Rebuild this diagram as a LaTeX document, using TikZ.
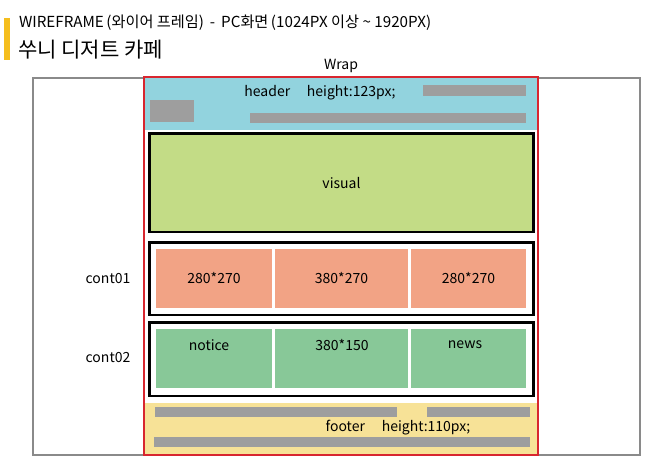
\documentclass[tikz,border=0pt]{standalone}
\usepackage{fontspec}
\setmainfont{Noto Sans CJK KR}
\definecolor{hdrblue}{HTML}{92D3DE}
\definecolor{visgreen}{HTML}{C3DC86}
\definecolor{salmon}{HTML}{F2A385}
\definecolor{cellgreen}{HTML}{88C898}
\definecolor{ftryellow}{HTML}{F7E297}
\definecolor{bargray}{HTML}{9E9E9E}
\definecolor{wrapred}{HTML}{D8262F}
\definecolor{titlebar}{HTML}{F5BE1E}
\definecolor{outergray}{HTML}{8A8A8A}
\newcommand{\wbox}[7]{%
  \pgfmathsetmacro{\cx}{(#2+#4)/2}\pgfmathsetmacro{\cy}{(#3+#5)/2}%
  \pgfmathsetmacro{\ww}{(#4-#2)*0.75}\pgfmathsetmacro{\hh}{(#5-#3)*0.75}%
  \node[#6, minimum width=\ww pt, minimum height=\hh pt] (#1) at (\cx,\cy) {#7};}
\begin{document}
\begin{tikzpicture}[x=0.75pt,y=-0.75pt,
  every node/.style={inner sep=0pt,outer sep=0pt,font=\fontsize{10.5pt}{12pt}\selectfont},
  bar/.style={rectangle,fill=bargray},
  cont/.style={rectangle,draw=black,line width=1.9pt,fill=white},
  cell/.style={rectangle},
  lbl/.style={text=black}]
\useasboundingbox (0,0) rectangle (654,461);
% title
\wbox{tbar}{4}{18}{10}{60}{rectangle,fill=titlebar}{}
\node[anchor=west,lbl,font=\fontsize{11.4pt}{13pt}\selectfont] (t1) at (19,23) {WIREFRAME\,(와이어 프레임)\, -\, PC화면\,(1024PX 이상 \textasciitilde{} 1920PX)};
\node[anchor=west,lbl,font=\fontsize{15.8pt}{18pt}\selectfont] (t2) at (18,50) {쑤니 디저트 카페};
\node[lbl] (wraplbl) at (341,66) {Wrap};
% outer box
\wbox{outer}{33}{78}{640}{455}{rectangle,draw=outergray,line width=0.8pt}{}
% header
\wbox{header}{145}{78}{537}{130}{rectangle,fill=hdrblue}{}
\wbox{hb1}{423}{85}{526}{96}{bar}{}
\wbox{hb2}{150}{100}{194}{122}{bar}{}
\wbox{hb3}{250}{113}{526}{123}{bar}{}
\node[lbl] (hdrtxt) at (320,93) {header\hspace{1.2em}height:123px;};
% visual
\wbox{visual}{149.5}{133.5}{533.5}{232}{rectangle,draw=black,line width=1.6pt,fill=visgreen}{visual}
% cont01
\wbox{cont01}{149.5}{242.5}{533.5}{315}{cont}{}
\wbox{c1a}{156}{249}{272}{308}{cell,fill=salmon}{280*270}
\wbox{c1b}{275}{249}{408}{308}{cell,fill=salmon}{380*270}
\wbox{c1c}{411}{249}{526}{308}{cell,fill=salmon}{280*270}
\node[lbl] (l1) at (108,279) {cont01};
% cont02
\wbox{cont02}{149.5}{322.5}{533.5}{396}{cont}{}
\wbox{c2a}{156}{329}{272}{388}{cell,fill=cellgreen}{}
\wbox{c2b}{275}{329}{408}{388}{cell,fill=cellgreen}{}
\wbox{c2c}{411}{329}{526}{388}{cell,fill=cellgreen}{}
\node[lbl] (n1) at (209,345) {notice};
\node[lbl] (n2) at (342,345) {380*150};
\node[lbl] (n3) at (465,345) {news};
\node[lbl] (l2) at (108,358) {cont02};
% footer
\wbox{footer}{145}{403}{537}{454}{rectangle,fill=ftryellow}{}
\wbox{fb1}{155}{407}{397}{417}{bar}{}
\wbox{fb2}{427}{407}{530}{417}{bar}{}
\wbox{fb3}{154}{437}{530}{447}{bar}{}
\node[lbl] (ftrtxt) at (398,428) {footer\hspace{1.2em}height:110px;};
% wrap
\wbox{wrap}{144}{77}{538}{455}{rectangle,draw=wrapred,line width=1.9pt}{}
\end{tikzpicture}
\end{document}
